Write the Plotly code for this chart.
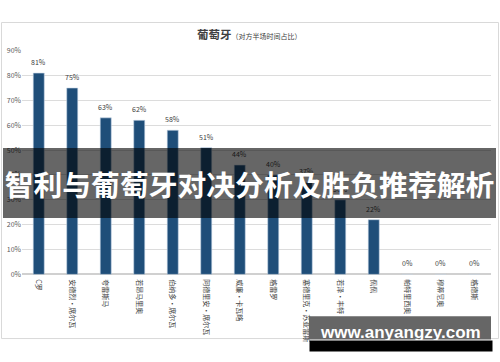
import plotly.graph_objects as go

W, H = 500, 362

players = ["C罗", "安德烈·席尔瓦", "夸雷斯马", "若昂马里奥", "伯纳多·席尔瓦",
           "阿德里安·席尔瓦", "威廉·卡瓦略", "格雷罗", "塞德里克·苏亚雷斯",
           "若泽·丰特", "佩佩", "帕特里西奥", "穆蒂尼奥", "格德斯"]
share_pct = [81, 75, 63, 62, 58, 51, 44, 40, 37, 30, 22, 0, 0, 0]
y_ticks = [0, 10, 20, 30, 40, 50, 60, 70, 80, 90]
y_tick_text = [f"{v}%" for v in y_ticks]

chart_title = "葡萄牙"
chart_subtitle = "（对方半场时间占比）"
banner_text = "智利与葡萄牙对决分析及胜负推荐解析"
watermark = "www.anyangzy.com"

CJK = "Noto Sans CJK SC, Microsoft YaHei, sans-serif"


def px(x):
    return x / W


def py(y):
    return 1 - y / H


fig = go.Figure(go.Bar(
    x=players, y=share_pct,
    marker=dict(color="#1f4e79", line=dict(color="#c9d7e8", width=0.6)),
    cliponaxis=False,
))

fig.update_layout(
    width=W, height=H,
    margin=dict(l=0, r=0, t=0, b=0),
    paper_bgcolor="white", plot_bgcolor="white",
    bargap=0.67, showlegend=False,
    font=dict(family=CJK, size=7, color="#595959"),
    xaxis=dict(domain=[px(22), px(491)], tickangle=90, showgrid=False,
               showline=False, ticks="", tickfont=dict(size=7, color="#404040"),
               ticklabelstandoff=4, fixedrange=True),
    yaxis=dict(domain=[py(276), py(46)], range=[0, 90], tickvals=y_ticks,
               ticktext=y_tick_text, showgrid=True, gridcolor="#dcdcdc",
               gridwidth=1, zeroline=True, zerolinecolor="#d0d0d0",
               showline=False, ticks="", tickfont=dict(size=7, color="#595959"),
               fixedrange=True),
)

shapes = [
    # chart frame
    dict(type="rect", xref="paper", yref="paper", x0=px(1.5), x1=px(498.5),
         y0=py(342), y1=py(17), line=dict(color="#d9d9d9", width=1),
         fillcolor="rgba(0,0,0,0)", layer="below"),
    # watermark box
    dict(type="rect", xref="paper", yref="paper", x0=px(309), x1=px(491),
         y0=py(343), y1=py(319), line=dict(width=0),
         fillcolor="#666666", layer="above"),
]
fig.update_layout(shapes=shapes)

annotations = [
    dict(text=f"<b>{chart_title}</b><span style='font-size:7px'>{chart_subtitle}</span>",
         xref="paper", yref="paper", x=px(249), y=py(29), xanchor="center",
         yanchor="middle", showarrow=False,
         font=dict(size=11.5, color="#404040", family=CJK)),
]
# value labels above bars
for name, v in zip(players, share_pct):
    annotations.append(dict(
        text=f"{v}%", x=name, y=v, xref="x", yref="y", showarrow=False,
        yanchor="bottom", yshift=4,
        font=dict(size=7, color="#404040", family=CJK)))
# banner (drawn over bars and labels)
annotations.append(dict(
    text=f"<b>{banner_text}</b>", xref="paper", yref="paper",
    x=px(3), y=py(146), xanchor="left", yanchor="top", showarrow=False,
    width=493, height=70, align="center", valign="middle",
    bgcolor="rgba(0,0,0,0.6)", borderpad=0, borderwidth=0,
    font=dict(size=28.8, color="white", family=CJK)))
annotations += [
    dict(text=f"<b>{watermark}</b>", xref="paper", yref="paper",
         x=px(400), y=py(336), xanchor="center", yanchor="middle",
         showarrow=False,
         font=dict(size=17, color="white", family="Liberation Sans, Arial, sans-serif")),
    dict(text=" ", xref="paper", yref="paper", x=px(309), y=py(343),
         xanchor="left", yanchor="top", showarrow=False, width=182, height=10,
         bgcolor="black", borderpad=0, font=dict(size=6)),
]
fig.update_layout(annotations=annotations)

fig.write_html("out.html")
